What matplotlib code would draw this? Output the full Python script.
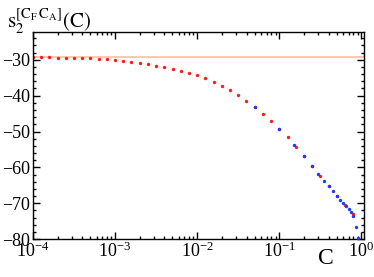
import numpy as np
import matplotlib
matplotlib.use("Agg")
import matplotlib.pyplot as plt
from matplotlib.ticker import LogLocator, MultipleLocator

plt.rcParams['font.family'] = ['Liberation Serif', 'DejaVu Serif']
plt.rcParams['mathtext.fontset'] = 'stix'

# red: log-spaced scan, log10(C) from -4.0 to -0.1 in steps of 0.1
red_log10c = [-4.0, -3.9, -3.8, -3.7, -3.6, -3.5, -3.4, -3.3, -3.2, -3.1,
              -3.0, -2.9, -2.8, -2.7, -2.6, -2.5, -2.4, -2.3, -2.2, -2.1,
              -2.0, -1.9, -1.8, -1.7, -1.6, -1.5, -1.4, -1.3, -1.2, -1.1,
              -1.0, -0.9, -0.8, -0.7, -0.6, -0.5, -0.4, -0.3, -0.2, -0.1]
red_s2 = [-29.2, -29.2, -29.2, -29.4, -29.4, -29.5, -29.5, -29.5, -29.7, -29.8,
          -30.0, -30.3, -30.6, -30.9, -31.2, -31.6, -32.0, -32.5, -33.0, -33.6,
          -34.3, -35.2, -36.1, -37.2, -38.4, -39.8, -41.4, -43.1, -45.1, -47.0,
          -49.3, -51.5, -54.3, -56.8, -59.6, -62.4, -65.2, -67.9, -70.5, -73.0]

# blue: linear scan in C
blue_c = [0.05, 0.10, 0.15, 0.20, 0.25, 0.30, 0.35, 0.40, 0.45, 0.50,
          0.55, 0.60, 0.65, 0.70, 0.75, 0.80, 0.85, 0.90]
blue_s2 = [-43.1, -49.3, -53.7, -56.8, -59.6, -61.8, -63.8, -65.2, -66.6, -67.9,
           -69.0, -69.9, -70.8, -71.6, -72.4, -73.5, -76.6, -79.6]

# asymptotic value at C -> 0
s2_limit = -29.1

fig = plt.figure(figsize=(3.74, 2.77), dpi=100)
ax = fig.add_axes([0.088, 0.137, 0.885, 0.748])

ax.axhline(s2_limit, color='#ffc8b4', lw=1.5, zorder=1)
ax.scatter(10 ** np.array(red_log10c), red_s2, s=6, color='#ff1a1a', lw=0, zorder=2)
ax.scatter(blue_c, blue_s2, s=6, color='#1a3cff', lw=0, zorder=3)

ax.set_xscale('log')
ax.set_xlim(1e-4, 10 ** 0.03)
ax.set_ylim(-80, -22.2)

ax.xaxis.set_major_locator(LogLocator(base=10, numticks=10))
ax.xaxis.set_minor_locator(LogLocator(base=10, subs=np.arange(2, 10), numticks=20))
ax.yaxis.set_major_locator(MultipleLocator(10))
ax.yaxis.set_minor_locator(MultipleLocator(2))

ax.tick_params(which='both', direction='in', top=True, right=True, width=1,
               labelsize=13, pad=2)
ax.tick_params(which='major', length=5)
ax.tick_params(which='minor', length=2.5)
for sp in ax.spines.values():
    sp.set_linewidth(1)

ax.set_yticks([-30, -40, -50, -60, -70, -80])
ax.set_yticklabels(['\u221230', '\u221240', '\u221250', '\u221260', '\u221270', '\u221280'])

fig.text(0.02, 0.975, r'$\mathrm{s_2^{[C_F\,C_A]}(C)}$', fontsize=15, va='top', ha='left')
fig.text(0.87, 0.03, 'C', fontsize=17, va='bottom', ha='center')

fig.savefig('out.png', dpi=100)
